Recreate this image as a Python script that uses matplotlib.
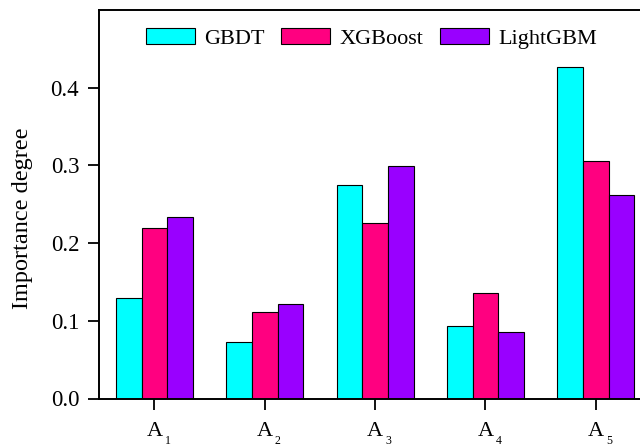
import matplotlib
matplotlib.use("Agg")
import matplotlib.pyplot as plt
import numpy as np

plt.rcParams['font.family'] = ['Liberation Serif', 'DejaVu Serif']

cat_letters = ['A', 'A', 'A', 'A', 'A']
cat_subs = ['1', '2', '3', '4', '5']
series_names = ['GBDT', 'XGBoost', 'LightGBM']
gbdt = [0.129, 0.073, 0.275, 0.093, 0.427]
xgboost = [0.220, 0.111, 0.226, 0.136, 0.306]
lightgbm = [0.233, 0.121, 0.299, 0.085, 0.262]
colors = ['#00FFFF', '#FF0080', '#9900FF']
yticks = [0.0, 0.1, 0.2, 0.3, 0.4]

fig = plt.figure(figsize=(6.4, 4.47), dpi=100)
ax = fig.add_axes([99.3 / 640, 48.5 / 447, (651 - 99.3) / 640, (398.5 - 10) / 447])

x = np.arange(1, len(cat_letters) + 1)
w = 0.232
for i, (vals, name, c) in enumerate(zip([gbdt, xgboost, lightgbm], series_names, colors)):
    ax.bar(x + (i - 1) * w, vals, width=w, color=c, edgecolor='black', linewidth=0.8, label=name)

ax.set_xlim(0.5, 5.5)
ax.set_ylim(0, 0.5)
ax.set_xticks(x)
ax.set_xticklabels(cat_letters, fontsize=16)
for xi, s in zip(x, cat_subs):
    ax.annotate(s, xy=(xi, 0), xycoords='data', xytext=(10, -45), textcoords='offset pixels',
                ha='left', va='baseline', fontsize=8.5, annotation_clip=False)
ax.set_yticks(yticks)
ax.set_yticklabels([f'{v:.1f}' for v in yticks], fontsize=16.5)
ax.tick_params(axis='both', direction='out', length=8, width=1.3)
ax.tick_params(axis='x', pad=9)
ax.tick_params(axis='y', pad=6.5)
for s in ax.spines.values():
    s.set_linewidth(1.4)

fig.text(23 / 640, 1 - 218 / 447, 'Importance degree', rotation=90, ha='center', va='center', fontsize=17.5)

leg = ax.legend(loc='upper center', ncol=3, frameon=False, fontsize=16,
                handlelength=2.2, handleheight=0.75, handletextpad=0.42,
                columnspacing=0.75, bbox_to_anchor=(0.4934, 1.0), borderaxespad=0.4)

fig.savefig('out.png', dpi=100)
